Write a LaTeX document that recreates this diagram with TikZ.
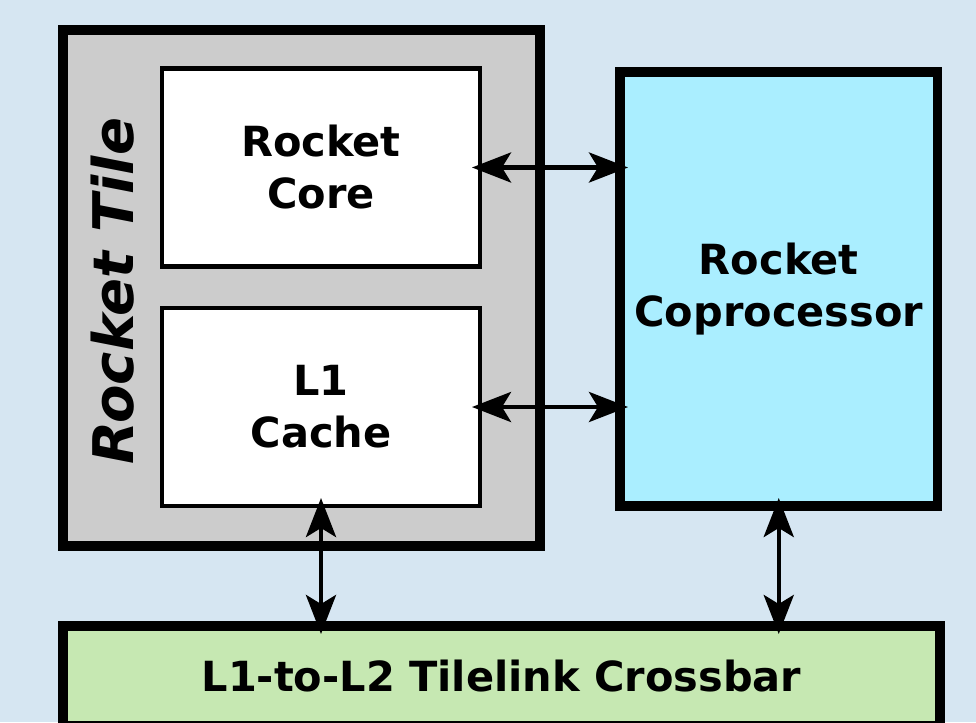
\documentclass[tikz,border=0pt]{standalone}
\usepackage{fontspec}
\setmainfont{DejaVu Sans}
\usepackage{xcolor}
\usepackage{tikz}
\usetikzlibrary{positioning,arrows.meta}
\definecolor{bgblue}{RGB}{214,230,242}
\definecolor{tilegray}{RGB}{204,204,204}
\definecolor{coprocyan}{RGB}{170,238,255}
\definecolor{xbargreen}{RGB}{198,232,178}

\begin{document}
\begin{tikzpicture}[x=1pt, y=-1pt,
  block/.style={draw, line width=4.5pt, fill=white, inner sep=0pt, outer sep=0pt, align=center, minimum width=318pt, minimum height=198pt, font=\fontsize{41.5}{52}\selectfont\bfseries},
  bigblock/.style={block, line width=9.5pt},
  arr/.style={{Stealth[length=39pt, width=30pt, inset=9pt]}-{Stealth[length=39pt, width=30pt, inset=9pt]}, line width=4.5pt, shorten <=-8pt, shorten >=-8pt}]
\fill[bgblue] (0,0) rectangle (976,722);
\useasboundingbox (0,0) rectangle (976,722);
\node[bigblock, fill=tilegray, minimum width=477pt, minimum height=516pt] (tile) at (301.5,288) {};
\node[font=\fontsize{56}{60}\selectfont\bfseries\itshape, rotate=90] (tilelabel) at (113,291) {Rocket Tile};
\node[block] (core) at (321,167.5) {Rocket\\Core};
\node[block] (l1) at (321,407) {L1\\Cache};
\node[bigblock, fill=coprocyan, minimum width=317.5pt, minimum height=434pt] (copro) at (778.75,289) {Rocket\\Coprocessor};
\node[bigblock, fill=xbargreen, minimum width=877pt, minimum height=100pt] (xbar) at (501.5,676) {L1-to-L2 Tilelink Crossbar};
\foreach \a/\b in {core/copro, l1/copro} { \draw[arr] (\a.east) -- (\a.east -| \b.west); }
\foreach \a in {l1, copro} { \draw[arr] (\a.south) -- (\a.south |- xbar.north); }
\end{tikzpicture}
\end{document}
